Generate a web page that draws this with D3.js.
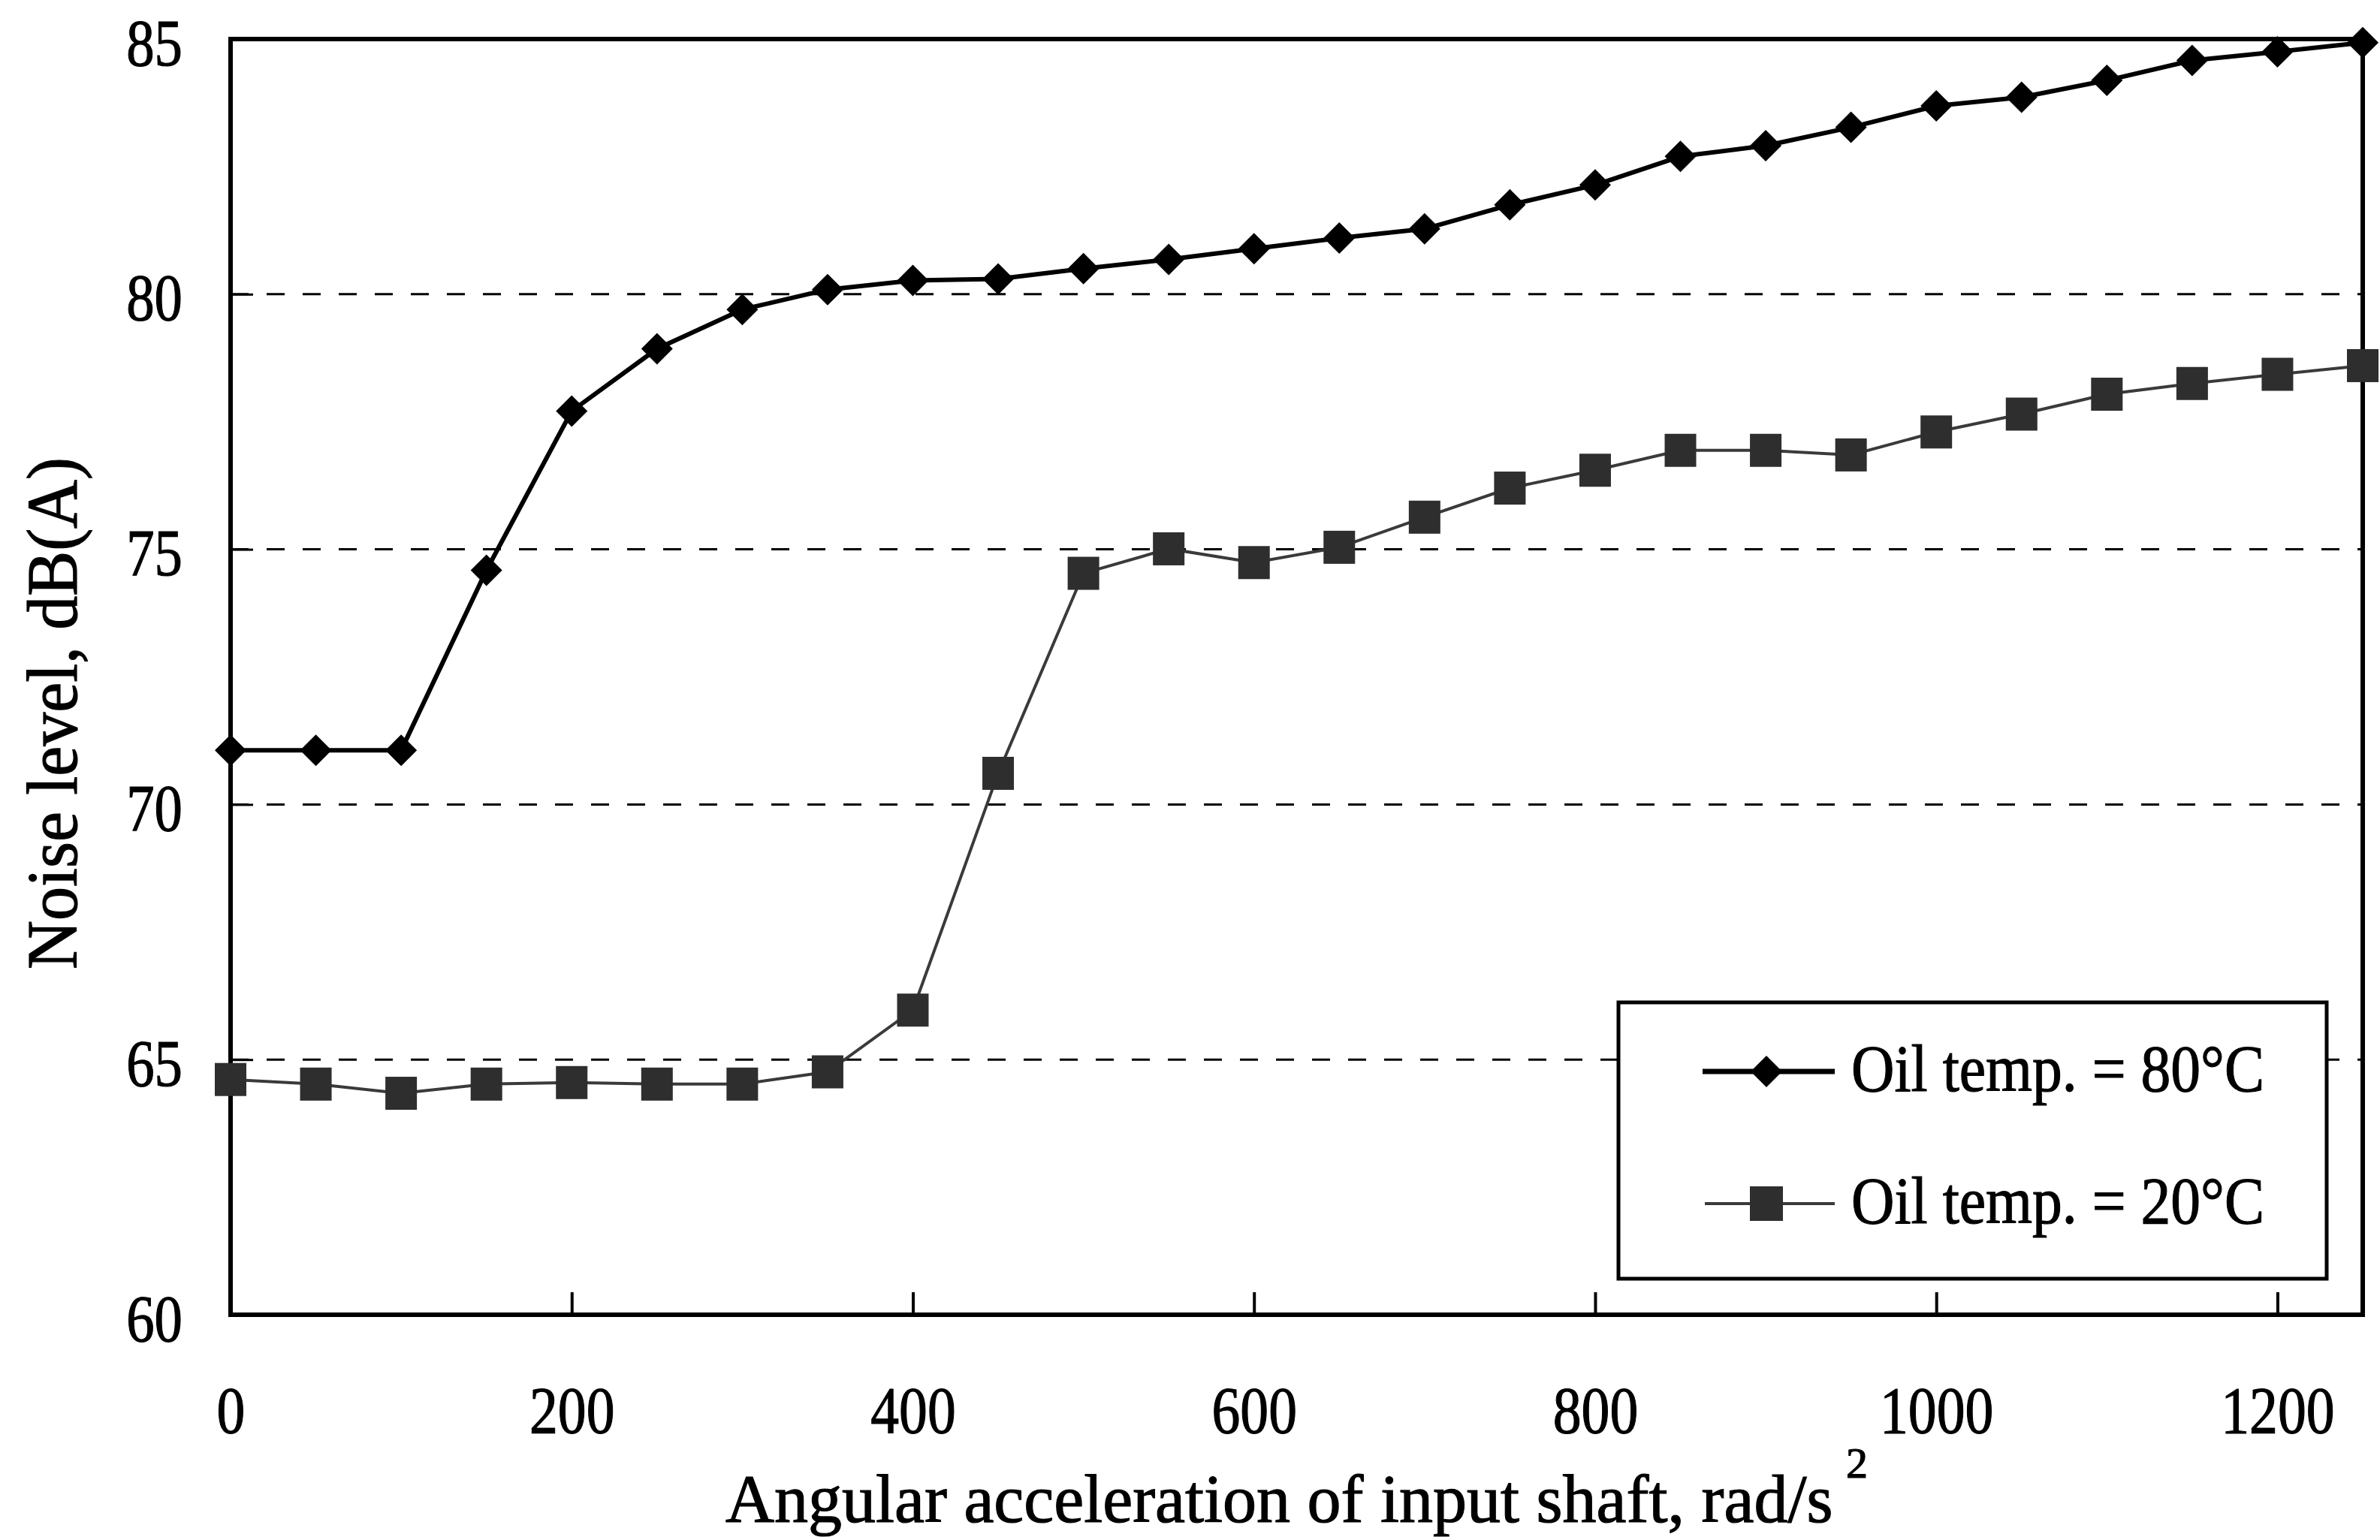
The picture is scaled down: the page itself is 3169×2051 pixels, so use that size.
<!DOCTYPE html>
<html>
<head>
<meta charset="utf-8">
<script src="https://cdn.jsdelivr.net/npm/d3@7"></script>
<style>
  html, body { margin: 0; padding: 0; background: #ffffff; }
  svg { display: block; }
  text { font-family: "Liberation Serif", "Times New Roman", Times, serif; fill: #000; stroke: #000; stroke-width: 1.2px; }
</style>
</head>
<body>
<svg id="chart" width="3169" height="2051"></svg>
<script>
// ---------------- DATA ----------------
const xValues = [0, 50, 100, 150, 200, 250, 300, 350, 400, 450, 500, 550, 600, 650,
                 700, 750, 800, 850, 900, 950, 1000, 1050, 1100, 1150, 1200, 1250];
const oil80 = [71.06, 71.06, 71.06, 74.59, 77.71, 78.93, 79.7, 80.09, 80.27, 80.3, 80.5, 80.68, 80.89, 81.1,
               81.28, 81.75, 82.14, 82.7, 82.91, 83.27, 83.69, 83.86, 84.19, 84.58, 84.75, 84.93];
const oil20 = [64.61, 64.52, 64.34, 64.52, 64.55, 64.52, 64.52, 64.76, 65.97, 70.61, 74.53, 75.01, 74.74, 75.04,
               75.63, 76.2, 76.55, 76.94, 76.94, 76.85, 77.3, 77.65, 78.04, 78.25, 78.43, 78.6];
const seriesNames = ["Oil temp. = 80°C", "Oil temp. = 20°C"];
const xTickValues = [0, 200, 400, 600, 800, 1000, 1200];
const yTickValues = [60, 65, 70, 75, 80, 85];
const gridValues = [65, 70, 75, 80];
const xTitle = "Angular acceleration of input shaft, rad/s";
const xTitleSup = "2";
const yTitle = "Noise level, dB(A)";

// ---------------- LAYOUT ----------------
const L = 307, R = 3146, T = 52, B = 1751;
const svg = d3.select("#chart");
const x = d3.scaleLinear().domain([0, 1250]).range([L, R]);
const y = d3.scaleLinear().domain([60, 85]).range([B, T]);

function squeeze(sel, factor) {
  sel.each(function () {
    const n = this.getComputedTextLength();
    this.setAttribute("textLength", (n * factor).toFixed(1));
    this.setAttribute("lengthAdjust", "spacingAndGlyphs");
  });
}

// grid lines
svg.append("g").selectAll("line").data(gridValues).join("line")
  .attr("x1", L).attr("x2", R)
  .attr("y1", d => y(d)).attr("y2", d => y(d))
  .attr("stroke", "#000").attr("stroke-width", 3)
  .attr("stroke-dasharray", "24 24");

// x axis
const gx = svg.append("g").attr("transform", `translate(0,${B})`)
  .call(d3.axisBottom(x).tickValues(xTickValues).tickSize(-30).tickSizeOuter(0).tickFormat(d3.format("d")));
gx.select(".domain").remove();
gx.selectAll(".tick line").attr("stroke", "#000").attr("stroke-width", 4);
gx.selectAll(".tick text")
  .attr("font-size", 88).attr("font-family", null).attr("fill", null)
  .attr("y", 157).attr("dy", 0)
  .call(squeeze, 0.86);

// y axis
const gy = svg.append("g").attr("transform", `translate(${L},0)`)
  .call(d3.axisLeft(y).tickValues(yTickValues).tickSize(-30).tickSizeOuter(0).tickFormat(d3.format("d")));
gy.select(".domain").remove();
gy.selectAll(".tick line").attr("stroke", "#000").attr("stroke-width", 3);
gy.selectAll(".tick text")
  .attr("font-size", 88).attr("font-family", null).attr("fill", null)
  .attr("x", -64).attr("dy", 0).attr("y", 34)
  .call(squeeze, 0.85);

// frame
svg.append("rect").attr("x", L).attr("y", T).attr("width", R - L).attr("height", B - T)
  .attr("fill", "none").attr("stroke", "#000").attr("stroke-width", 6);

// series
const line = d3.line().x(d => x(d[0])).y(d => y(d[1]));
const d80 = xValues.map((v, i) => [v, oil80[i]]);
const d20 = xValues.map((v, i) => [v, oil20[i]]);

svg.append("path").datum(d20).attr("d", line)
  .attr("fill", "none").attr("stroke", "#3a3a3a").attr("stroke-width", 4);
svg.append("path").datum(d80).attr("d", line)
  .attr("fill", "none").attr("stroke", "#000").attr("stroke-width", 6).attr("stroke-linejoin", "round");

const diamond = d3.symbol(d3.symbolSquare, 882);
const SQW = 42, SQH = 44;
svg.append("g").selectAll("rect").data(d20).join("rect")
  .attr("x", d => x(d[0]) - SQW / 2).attr("y", d => y(d[1]) - SQH / 2)
  .attr("width", SQW).attr("height", SQH).attr("fill", "#2e2e2e");
svg.append("g").selectAll("path").data(d80).join("path")
  .attr("d", diamond)
  .attr("transform", d => `translate(${x(d[0])},${y(d[1])}) rotate(45)`)
  .attr("fill", "#000");

// legend
const lg = svg.append("g");
lg.append("rect").attr("x", 2155).attr("y", 1335).attr("width", 943).attr("height", 368)
  .attr("fill", "#fff").attr("stroke", "#000").attr("stroke-width", 5);
const legY = [1427, 1603];
lg.append("line").attr("x1", 2267).attr("x2", 2443).attr("y1", legY[0]).attr("y2", legY[0])
  .attr("stroke", "#000").attr("stroke-width", 7);
lg.append("path").attr("d", diamond).attr("transform", `translate(2352,${legY[0]}) rotate(45)`).attr("fill", "#000");
lg.append("line").attr("x1", 2270).attr("x2", 2443).attr("y1", legY[1]).attr("y2", legY[1])
  .attr("stroke", "#3a3a3a").attr("stroke-width", 4);
lg.append("rect").attr("x", 2352 - 22).attr("y", legY[1] - 23).attr("width", 44).attr("height", 46).attr("fill", "#2e2e2e");
lg.selectAll("text").data(seriesNames).join("text")
  .attr("x", 2465).attr("y", (d, i) => legY[i] + 26)
  .attr("font-size", 88)
  .text(d => d)
  .attr("textLength", 550).attr("lengthAdjust", "spacingAndGlyphs");

// axis titles
svg.append("text").attr("x", 966).attr("y", 2027).attr("font-size", 90).text(xTitle);
svg.append("text").attr("x", 2458).attr("y", 1968).attr("font-size", 58).text(xTitleSup);

svg.append("text").attr("transform", "translate(102,1291) rotate(-90)")
  .attr("font-size", 96).text(yTitle)
  .attr("textLength", 682).attr("lengthAdjust", "spacingAndGlyphs");
</script>
</body>
</html>
